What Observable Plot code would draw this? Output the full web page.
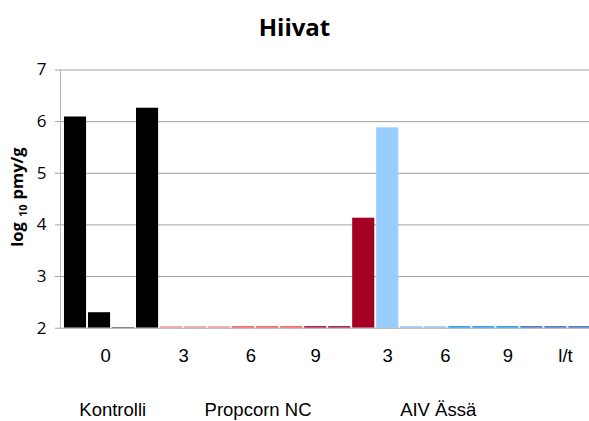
<!DOCTYPE html>
<html>
<head>
<meta charset="utf-8">
<script src="https://cdn.jsdelivr.net/npm/d3@7"></script>
<script src="https://cdn.jsdelivr.net/npm/@observablehq/plot@0.6"></script>
<style>
  html, body { margin: 0; padding: 0; background: #fff; }
  #title { height: 50px; line-height: 54px; text-align: center; font-family: "Open Sans", sans-serif; font-weight: bold; font-size: 24px; color: #000; width: 589px; }
  #chart svg { display: block; }
</style>
</head>
<body>
<div id="title">Hiivat</div>
<div id="chart"></div>
<script>
// Bar values (log10 pmy/g), in order left to right
const barValues = [6.09, 2.30, 2.01, 6.26,
                   2.03, 2.03, 2.03,
                   2.03, 2.03, 2.03,
                   2.03, 2.03, 4.13,
                   5.88, 2.03, 2.03,
                   2.03, 2.03, 2.03,
                   2.03, 2.03, 2.03];
const barColors = ["#000000", "#000000", "#000000", "#000000",
                   "#ff9999", "#ff9999", "#ff9999",
                   "#ff5050", "#ff5050", "#ff5050",
                   "#a50021", "#a50021", "#a50021",
                   "#99ccff", "#99ccff", "#99ccff",
                   "#0099ff", "#0099ff", "#0099ff",
                   "#3366cc", "#3366cc", "#3366cc"];
const tickLabels = ["0", "3", "6", "9", "3", "6", "9", "l/t"];
const tickPos = [1.75, 5.0, 7.8, 10.5, 13.5, 15.9, 18.5, 20.9];
const groupLabels = ["Kontrolli", "Propcorn NC", "AIV Ässä"];
const groupPos = [2.05, 8.1, 15.6];
const yTicks = [2, 3, 4, 5, 6, 7];

const bars = barValues.map((v, i) => ({i, v, color: barColors[i]}));
const ticks = tickLabels.map((t, k) => ({t, x: tickPos[k]}));
const groups = groupLabels.map((t, k) => ({t, x: groupPos[k]}));

const plot = Plot.plot({
  width: 589,
  height: 371,
  marginLeft: 60,
  marginRight: 0,
  marginTop: 19.5,
  marginBottom: 93.3,
  x: {domain: [-0.125, 21.9], axis: null},
  y: {domain: [2, 7]},
  color: {type: "identity"},
  style: {fontFamily: "Open Sans, sans-serif", fontSize: "16px", color: "#000", background: "#fff"},
  marks: [
    Plot.ruleY(yTicks.slice(1), {stroke: "#a0a0a0", strokeWidth: 1}),
    Plot.ruleX([-0.125], {y1: 2, y2: 7, stroke: "#b8b8b8"}),
    Plot.rectY(bars, {x1: d => d.i + 0.04, x2: d => d.i + 0.96, y1: 2, y2: "v", fill: "color"}),
    Plot.ruleY([2], {stroke: "#a0a0a0", strokeWidth: 1}),
    Plot.axisY({ticks: yTicks, tickFormat: d => String(d), tickSize: 5, tickPadding: 9, stroke: "#a0a0a0", label: null, fontSize: 17, fontFamily: "Open Sans, sans-serif"}),
    Plot.text(ticks, {x: "x", y: () => 2, text: "t", dy: 27.5, fontSize: 18.5, fontFamily: "Liberation Sans, Arial, sans-serif", fill: "#000"}),
    Plot.text(groups, {x: "x", y: () => 2, text: "t", dy: 81.5, fontSize: 18.5, fontFamily: "Liberation Sans, Arial, sans-serif", fill: "#000"})
  ]
});
document.getElementById("chart").appendChild(plot);

// Rotated y-axis label with subscript
const svg = d3.select(plot);
const lab = svg.append("text")
  .attr("transform", "translate(23,147) rotate(-90)")
  .attr("text-anchor", "middle")
  .attr("font-family", "Open Sans, sans-serif")
  .attr("font-weight", "bold")
  .attr("font-size", 16.5)
  .attr("fill", "#000")
  .style("white-space", "pre");
lab.append("tspan").text("log");
lab.append("tspan").attr("font-size", 11).attr("dx", 5).attr("dy", 4).text("10");
lab.append("tspan").attr("dx", 5).attr("dy", -4).text("pmy/g");
</script>
</body>
</html>
